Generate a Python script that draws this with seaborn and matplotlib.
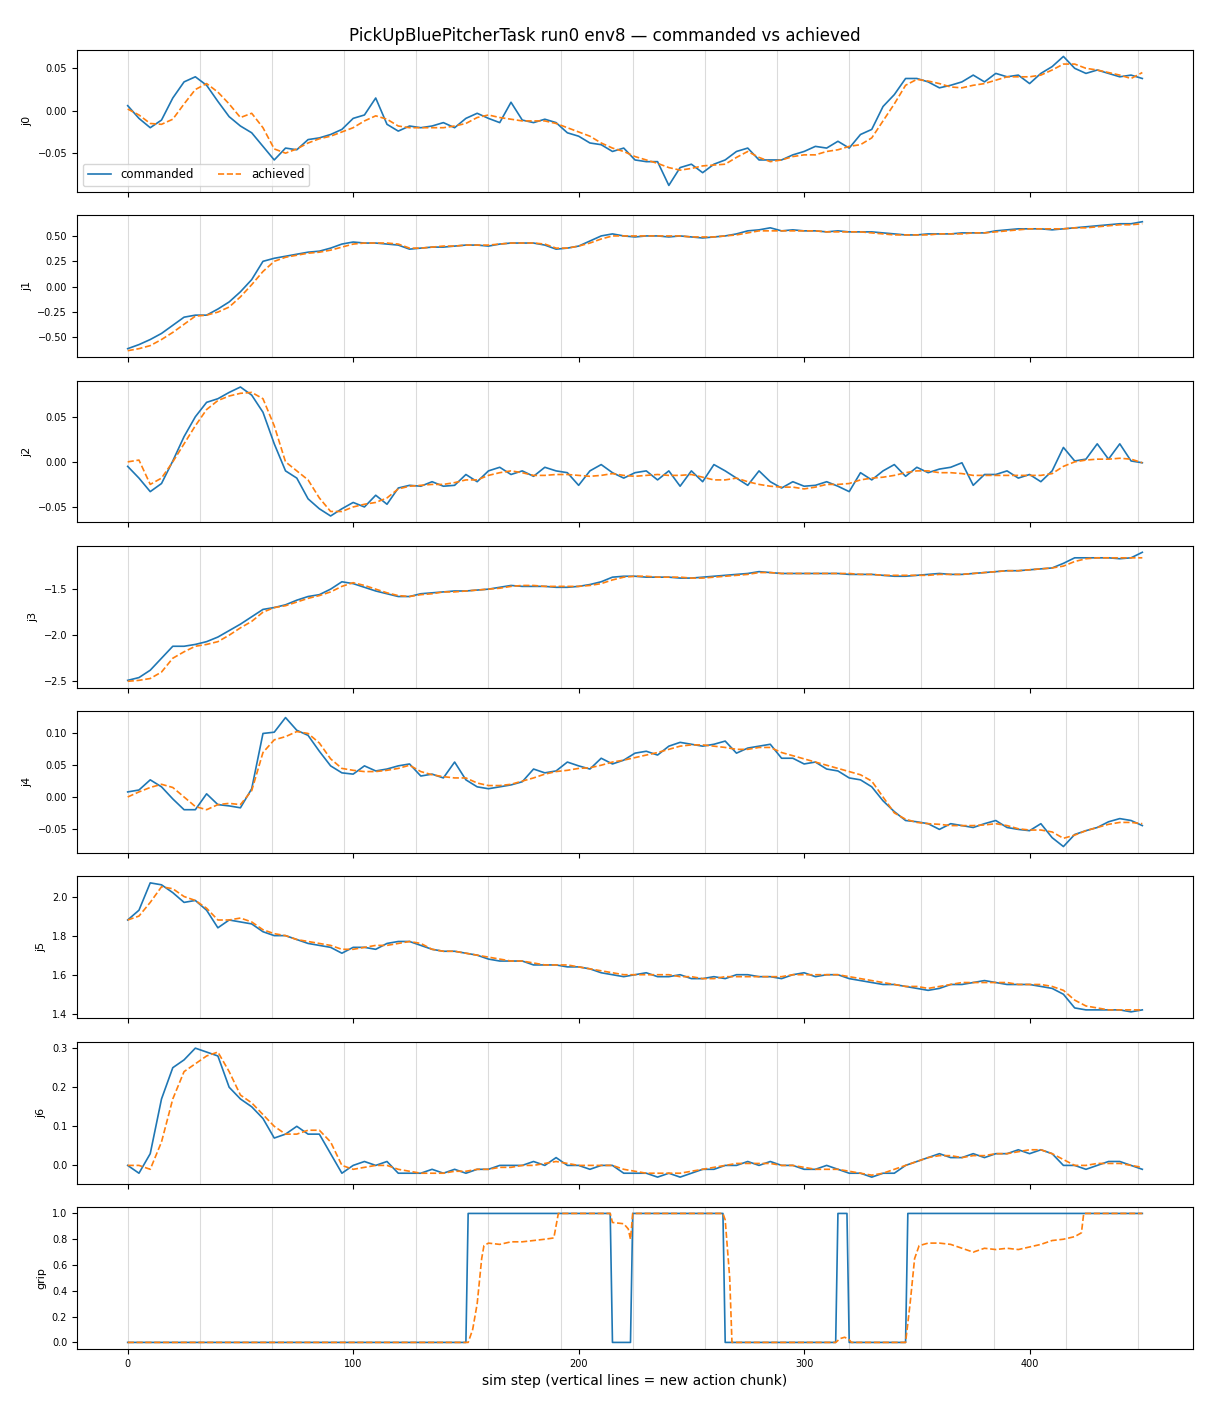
import matplotlib
matplotlib.use("Agg")
import matplotlib.pyplot as plt
import matplotlib.ticker as mticker
import seaborn as sns

# ------------------------------------------------------------------
# Data (one sample every 5 sim steps)
# ------------------------------------------------------------------
steps = list(range(0, 451, 5))
chunk_starts = [0, 32, 64, 96, 128, 160, 192, 224, 256, 288, 320, 352, 384, 416, 448]

j0_cmd = [0.006, -0.009, -0.020, -0.011, 0.015, 0.034, 0.040, 0.030, 0.011, -0.007,
          -0.018, -0.026, -0.042, -0.058, -0.044, -0.046, -0.034, -0.032, -0.028, -0.022,
          -0.009, -0.005, 0.015, -0.016, -0.024, -0.018, -0.020, -0.018, -0.014, -0.020,
          -0.009, -0.003, -0.009, -0.014, 0.010, -0.011, -0.014, -0.010, -0.014, -0.026,
          -0.030, -0.038, -0.040, -0.048, -0.044, -0.058, -0.060, -0.060, -0.088, -0.067,
          -0.063, -0.073, -0.063, -0.058, -0.048, -0.044, -0.058, -0.058, -0.058, -0.052,
          -0.048, -0.042, -0.044, -0.036, -0.044, -0.028, -0.022, 0.005, 0.019, 0.038,
          0.038, 0.034, 0.027, 0.030, 0.034, 0.042, 0.034, 0.044, 0.040, 0.042,
          0.032, 0.044, 0.052, 0.064, 0.050, 0.044, 0.048, 0.044, 0.040, 0.042,
          0.038]
j0_ach = [0.002, -0.005, -0.015, -0.016, -0.010, 0.008, 0.025, 0.032, 0.022, 0.008,
          -0.008, -0.003, -0.020, -0.045, -0.050, -0.045, -0.038, -0.033, -0.030, -0.025,
          -0.020, -0.012, -0.006, -0.010, -0.018, -0.020, -0.020, -0.020, -0.020, -0.018,
          -0.015, -0.008, -0.005, -0.008, -0.010, -0.012, -0.012, -0.012, -0.015, -0.020,
          -0.025, -0.030, -0.038, -0.044, -0.048, -0.054, -0.058, -0.062, -0.067, -0.070,
          -0.068, -0.065, -0.064, -0.063, -0.055, -0.048, -0.055, -0.060, -0.058, -0.054,
          -0.052, -0.052, -0.048, -0.046, -0.042, -0.040, -0.032, -0.012, 0.008, 0.030,
          0.037, 0.035, 0.032, 0.028, 0.027, 0.030, 0.032, 0.036, 0.040, 0.040,
          0.040, 0.042, 0.048, 0.055, 0.055, 0.050, 0.048, 0.045, 0.042, 0.038,
          0.045]

j1_cmd = [-0.61, -0.57, -0.52, -0.46, -0.38, -0.30, -0.28, -0.28, -0.22, -0.15,
          -0.05, 0.07, 0.25, 0.28, 0.30, 0.32, 0.34, 0.35, 0.38, 0.42,
          0.44, 0.43, 0.43, 0.42, 0.41, 0.37, 0.38, 0.39, 0.39, 0.40,
          0.41, 0.41, 0.40, 0.42, 0.43, 0.43, 0.43, 0.41, 0.37, 0.38,
          0.40, 0.45, 0.50, 0.52, 0.50, 0.49, 0.50, 0.50, 0.49, 0.50,
          0.49, 0.48, 0.49, 0.50, 0.52, 0.55, 0.56, 0.58, 0.55, 0.56,
          0.55, 0.55, 0.54, 0.55, 0.54, 0.54, 0.54, 0.53, 0.52, 0.51,
          0.51, 0.52, 0.52, 0.52, 0.53, 0.53, 0.53, 0.55, 0.56, 0.57,
          0.57, 0.57, 0.56, 0.57, 0.58, 0.59, 0.60, 0.61, 0.62, 0.62,
          0.64]
j1_ach = [-0.63, -0.61, -0.58, -0.52, -0.45, -0.37, -0.29, -0.28, -0.25, -0.20,
          -0.10, 0.02, 0.15, 0.25, 0.29, 0.31, 0.33, 0.34, 0.36, 0.39,
          0.42, 0.43, 0.43, 0.43, 0.42, 0.38, 0.38, 0.39, 0.40, 0.40,
          0.41, 0.41, 0.41, 0.42, 0.43, 0.43, 0.43, 0.42, 0.38, 0.38,
          0.40, 0.43, 0.47, 0.50, 0.50, 0.50, 0.50, 0.50, 0.50, 0.50,
          0.49, 0.49, 0.49, 0.50, 0.51, 0.53, 0.55, 0.55, 0.55, 0.55,
          0.55, 0.55, 0.54, 0.54, 0.54, 0.54, 0.53, 0.52, 0.51, 0.51,
          0.51, 0.51, 0.52, 0.52, 0.52, 0.53, 0.53, 0.54, 0.55, 0.56,
          0.57, 0.57, 0.57, 0.57, 0.58, 0.58, 0.59, 0.60, 0.61, 0.61,
          0.62]

j2_cmd = [-0.005, -0.018, -0.033, -0.024, 0.001, 0.028, 0.050, 0.066, 0.070, 0.077,
          0.083, 0.074, 0.055, 0.020, -0.010, -0.018, -0.041, -0.052, -0.060, -0.052,
          -0.045, -0.050, -0.037, -0.047, -0.029, -0.026, -0.027, -0.022, -0.027, -0.026,
          -0.014, -0.022, -0.010, -0.006, -0.014, -0.010, -0.016, -0.006, -0.010, -0.012,
          -0.026, -0.010, -0.003, -0.012, -0.018, -0.012, -0.010, -0.020, -0.010, -0.027,
          -0.010, -0.022, -0.003, -0.010, -0.018, -0.026, -0.010, -0.022, -0.029, -0.022,
          -0.027, -0.026, -0.022, -0.027, -0.033, -0.012, -0.020, -0.010, -0.003, -0.016,
          -0.006, -0.012, -0.008, -0.006, -0.001, -0.026, -0.014, -0.014, -0.010, -0.018,
          -0.014, -0.022, -0.010, 0.016, 0.001, 0.003, 0.020, 0.003, 0.020, 0.001,
          -0.001]
j2_ach = [0.000, 0.002, -0.025, -0.018, 0.000, 0.020, 0.040, 0.058, 0.068, 0.073,
          0.076, 0.077, 0.070, 0.040, 0.000, -0.010, -0.020, -0.040, -0.055, -0.055,
          -0.050, -0.047, -0.045, -0.040, -0.030, -0.027, -0.026, -0.025, -0.025, -0.023,
          -0.020, -0.020, -0.015, -0.012, -0.010, -0.012, -0.015, -0.015, -0.014, -0.014,
          -0.015, -0.016, -0.015, -0.013, -0.015, -0.016, -0.015, -0.014, -0.015, -0.015,
          -0.014, -0.017, -0.020, -0.020, -0.018, -0.022, -0.025, -0.027, -0.028, -0.028,
          -0.030, -0.028, -0.025, -0.025, -0.024, -0.020, -0.018, -0.017, -0.015, -0.012,
          -0.010, -0.010, -0.012, -0.012, -0.013, -0.015, -0.015, -0.015, -0.015, -0.015,
          -0.015, -0.015, -0.013, -0.005, 0.000, 0.002, 0.003, 0.003, 0.004, 0.003,
          -0.001]

j3_cmd = [-2.49, -2.46, -2.38, -2.25, -2.12, -2.12, -2.10, -2.07, -2.02, -1.95,
          -1.88, -1.80, -1.72, -1.70, -1.67, -1.62, -1.58, -1.56, -1.50, -1.42,
          -1.44, -1.48, -1.52, -1.55, -1.58, -1.58, -1.55, -1.54, -1.53, -1.52,
          -1.52, -1.51, -1.50, -1.48, -1.46, -1.47, -1.47, -1.47, -1.48, -1.48,
          -1.47, -1.45, -1.42, -1.37, -1.36, -1.36, -1.37, -1.37, -1.37, -1.38,
          -1.38, -1.37, -1.36, -1.35, -1.34, -1.33, -1.31, -1.32, -1.33, -1.33,
          -1.33, -1.33, -1.33, -1.33, -1.34, -1.34, -1.34, -1.35, -1.36, -1.36,
          -1.35, -1.34, -1.33, -1.34, -1.34, -1.33, -1.32, -1.31, -1.30, -1.30,
          -1.29, -1.28, -1.27, -1.22, -1.16, -1.16, -1.16, -1.16, -1.17, -1.16,
          -1.10]
j3_ach = [-2.50, -2.49, -2.47, -2.40, -2.25, -2.18, -2.12, -2.10, -2.07, -2.00,
          -1.92, -1.85, -1.75, -1.70, -1.68, -1.64, -1.60, -1.57, -1.53, -1.47,
          -1.43, -1.46, -1.50, -1.54, -1.57, -1.58, -1.56, -1.55, -1.53, -1.53,
          -1.52, -1.51, -1.50, -1.49, -1.47, -1.46, -1.46, -1.47, -1.47, -1.47,
          -1.47, -1.46, -1.44, -1.40, -1.37, -1.36, -1.36, -1.37, -1.37, -1.37,
          -1.38, -1.38, -1.37, -1.36, -1.35, -1.34, -1.32, -1.32, -1.33, -1.33,
          -1.33, -1.33, -1.33, -1.33, -1.33, -1.34, -1.34, -1.35, -1.35, -1.35,
          -1.35, -1.35, -1.34, -1.34, -1.34, -1.33, -1.32, -1.31, -1.30, -1.30,
          -1.29, -1.28, -1.27, -1.25, -1.20, -1.17, -1.16, -1.16, -1.16, -1.16,
          -1.16]

j4_cmd = [0.008, 0.011, 0.027, 0.016, -0.003, -0.020, -0.020, 0.005, -0.012, -0.014,
          -0.017, 0.013, 0.100, 0.102, 0.125, 0.105, 0.097, 0.072, 0.049, 0.038,
          0.036, 0.049, 0.041, 0.044, 0.049, 0.052, 0.033, 0.036, 0.030, 0.055,
          0.027, 0.016, 0.013, 0.016, 0.019, 0.024, 0.044, 0.038, 0.041, 0.055,
          0.049, 0.044, 0.061, 0.052, 0.058, 0.069, 0.072, 0.066, 0.080, 0.086,
          0.083, 0.080, 0.083, 0.088, 0.069, 0.077, 0.080, 0.083, 0.061, 0.061,
          0.052, 0.055, 0.044, 0.041, 0.030, 0.027, 0.016, -0.006, -0.023, -0.037,
          -0.039, -0.042, -0.051, -0.042, -0.045, -0.048, -0.042, -0.037, -0.048, -0.051,
          -0.053, -0.042, -0.064, -0.078, -0.059, -0.053, -0.048, -0.039, -0.034, -0.037,
          -0.045]
j4_ach = [0.000, 0.008, 0.015, 0.020, 0.015, 0.000, -0.015, -0.020, -0.012, -0.010,
          -0.012, 0.010, 0.070, 0.090, 0.095, 0.103, 0.100, 0.085, 0.060, 0.045,
          0.042, 0.040, 0.040, 0.042, 0.045, 0.050, 0.040, 0.035, 0.032, 0.030,
          0.030, 0.022, 0.018, 0.018, 0.020, 0.025, 0.030, 0.036, 0.040, 0.042,
          0.045, 0.046, 0.050, 0.055, 0.058, 0.062, 0.066, 0.070, 0.075, 0.080,
          0.082, 0.082, 0.080, 0.078, 0.075, 0.075, 0.078, 0.078, 0.070, 0.065,
          0.060, 0.055, 0.050, 0.045, 0.040, 0.035, 0.025, 0.000, -0.025, -0.035,
          -0.040, -0.042, -0.043, -0.045, -0.045, -0.045, -0.044, -0.042, -0.045, -0.050,
          -0.052, -0.052, -0.055, -0.065, -0.060, -0.053, -0.048, -0.043, -0.040, -0.040,
          -0.042]

j5_cmd = [1.88, 1.93, 2.07, 2.06, 2.02, 1.97, 1.98, 1.93, 1.84, 1.88,
          1.87, 1.86, 1.82, 1.80, 1.80, 1.78, 1.76, 1.75, 1.74, 1.71,
          1.74, 1.74, 1.73, 1.76, 1.77, 1.77, 1.75, 1.73, 1.72, 1.72,
          1.71, 1.70, 1.68, 1.67, 1.67, 1.67, 1.65, 1.65, 1.65, 1.64,
          1.64, 1.63, 1.61, 1.60, 1.59, 1.60, 1.61, 1.59, 1.59, 1.60,
          1.58, 1.58, 1.59, 1.58, 1.60, 1.60, 1.59, 1.59, 1.58, 1.60,
          1.61, 1.59, 1.60, 1.60, 1.58, 1.57, 1.56, 1.55, 1.55, 1.54,
          1.53, 1.52, 1.53, 1.55, 1.55, 1.56, 1.57, 1.56, 1.55, 1.55,
          1.55, 1.54, 1.53, 1.50, 1.43, 1.42, 1.42, 1.42, 1.42, 1.41,
          1.42]
j5_ach = [1.88, 1.90, 1.97, 2.05, 2.04, 2.00, 1.98, 1.94, 1.88, 1.88,
          1.89, 1.87, 1.83, 1.81, 1.80, 1.78, 1.77, 1.76, 1.75, 1.73,
          1.73, 1.74, 1.75, 1.75, 1.76, 1.77, 1.76, 1.73, 1.72, 1.72,
          1.71, 1.70, 1.69, 1.68, 1.67, 1.67, 1.66, 1.65, 1.65, 1.65,
          1.64, 1.63, 1.62, 1.61, 1.60, 1.60, 1.60, 1.60, 1.60, 1.59,
          1.59, 1.58, 1.58, 1.59, 1.59, 1.59, 1.59, 1.59, 1.59, 1.60,
          1.60, 1.60, 1.60, 1.60, 1.59, 1.58, 1.57, 1.56, 1.55, 1.54,
          1.54, 1.53, 1.54, 1.55, 1.56, 1.56, 1.56, 1.56, 1.56, 1.55,
          1.55, 1.55, 1.54, 1.52, 1.47, 1.44, 1.43, 1.42, 1.42, 1.42,
          1.42]

j6_cmd = [0.00, -0.02, 0.03, 0.17, 0.25, 0.27, 0.30, 0.29, 0.28, 0.20,
          0.17, 0.15, 0.12, 0.07, 0.08, 0.10, 0.08, 0.08, 0.03, -0.02,
          0.00, 0.01, 0.00, 0.01, -0.02, -0.02, -0.02, -0.01, -0.02, -0.01,
          -0.02, -0.01, -0.01, 0.00, 0.00, 0.00, 0.01, 0.00, 0.02, 0.00,
          0.00, -0.01, 0.00, 0.00, -0.02, -0.02, -0.02, -0.03, -0.02, -0.03,
          -0.02, -0.01, -0.01, 0.00, 0.00, 0.01, 0.00, 0.01, 0.00, 0.00,
          -0.01, -0.01, 0.00, -0.01, -0.02, -0.02, -0.03, -0.02, -0.02, 0.00,
          0.01, 0.02, 0.03, 0.02, 0.02, 0.03, 0.02, 0.03, 0.03, 0.04,
          0.03, 0.04, 0.03, 0.00, 0.00, -0.01, 0.00, 0.01, 0.01, 0.00,
          -0.01]
j6_ach = [0.00, 0.00, -0.01, 0.06, 0.17, 0.24, 0.26, 0.28, 0.29, 0.24,
          0.18, 0.16, 0.13, 0.10, 0.08, 0.08, 0.09, 0.09, 0.06, 0.00,
          -0.01, -0.005, 0.00, 0.00, -0.01, -0.015, -0.02, -0.02, -0.02, -0.015,
          -0.015, -0.01, -0.01, -0.005, -0.005, 0.00, 0.00, 0.005, 0.01, 0.005,
          0.00, 0.00, 0.00, 0.00, -0.01, -0.015, -0.02, -0.02, -0.02, -0.02,
          -0.015, -0.01, -0.005, 0.00, 0.005, 0.005, 0.005, 0.005, 0.00, 0.00,
          -0.005, -0.01, -0.01, -0.01, -0.015, -0.02, -0.025, -0.02, -0.01, 0.00,
          0.01, 0.02, 0.025, 0.025, 0.02, 0.025, 0.025, 0.03, 0.03, 0.035,
          0.04, 0.04, 0.03, 0.015, 0.00, 0.00, 0.005, 0.005, 0.005, 0.00,
          -0.005]

# gripper: breakpoints of the step signal
grip_cmd_x = [0, 150, 151, 214, 215, 223, 224, 264, 265, 314, 315, 319, 320, 345, 346, 450]
grip_cmd_y = [0, 0, 1, 1, 0, 0, 1, 1, 0, 0, 1, 1, 0, 0, 1, 1]
grip_ach_x = [0, 151, 153, 155, 157, 158, 160, 165, 170, 175, 180, 185, 189, 191,
              214, 215, 220, 222, 223, 224, 264, 265, 267, 268, 314, 316, 318, 320, 321,
              345, 347, 349, 351, 355, 360, 365, 370, 375, 380, 385, 390, 395, 400,
              405, 410, 415, 420, 423, 424, 450]
grip_ach_y = [0.0, 0.0, 0.1, 0.3, 0.65, 0.75, 0.77, 0.76, 0.78, 0.78, 0.79, 0.80, 0.81, 1.0,
              1.0, 0.93, 0.92, 0.88, 0.80, 1.0, 1.0, 0.95, 0.5, 0.0, 0.0, 0.03, 0.04, 0.02, 0.0,
              0.0, 0.3, 0.65, 0.75, 0.77, 0.77, 0.76, 0.73, 0.70, 0.73, 0.72, 0.73, 0.72, 0.74,
              0.76, 0.79, 0.80, 0.82, 0.85, 1.0, 1.0]

panels = [
    ("j0", steps, j0_cmd, steps, j0_ach),
    ("j1", steps, j1_cmd, steps, j1_ach),
    ("j2", steps, j2_cmd, steps, j2_ach),
    ("j3", steps, j3_cmd, steps, j3_ach),
    ("j4", steps, j4_cmd, steps, j4_ach),
    ("j5", steps, j5_cmd, steps, j5_ach),
    ("j6", steps, j6_cmd, steps, j6_ach),
    ("grip", grip_cmd_x, grip_cmd_y, grip_ach_x, grip_ach_y),
]

# ------------------------------------------------------------------
# Plot
# ------------------------------------------------------------------
fig, axes = plt.subplots(len(panels), 1, figsize=(12.1, 14.08), dpi=100, sharex=True)
fig.subplots_adjust(left=0.0636, right=0.986, top=0.9645, bottom=0.042, hspace=0.165)

for i, (name, cx, cy, ax_x, ay) in enumerate(panels):
    ax = axes[i]
    for c in chunk_starts:
        ax.axvline(c, color="lightgray", linewidth=0.8, alpha=0.8, zorder=0)
    sns.lineplot(x=cx, y=cy, ax=ax, color="tab:blue", linewidth=1.2,
                 estimator=None, sort=False, label="commanded" if i == 0 else None)
    sns.lineplot(x=ax_x, y=ay, ax=ax, color="tab:orange", linewidth=1.2, linestyle="--",
                 estimator=None, sort=False, label="achieved" if i == 0 else None)
    ax.set_ylabel(name, fontsize=8)
    ax.tick_params(labelsize=7)
    ax.yaxis.set_major_locator(mticker.MaxNLocator(nbins=6, steps=[1, 2, 2.5, 5, 10]))
    if i == 0:
        ax.legend(loc="lower left", ncol=2, fontsize=8.5)
    else:
        leg = ax.get_legend()
        if leg is not None:
            leg.remove()

axes[-1].set_xticks([0, 100, 200, 300, 400])
axes[-1].set_xlabel("sim step (vertical lines = new action chunk)", fontsize=10)
fig.suptitle("PickUpBluePitcherTask run0 env8 — commanded vs achieved", fontsize=12, y=0.981)

fig.savefig("out.png", dpi=100)
